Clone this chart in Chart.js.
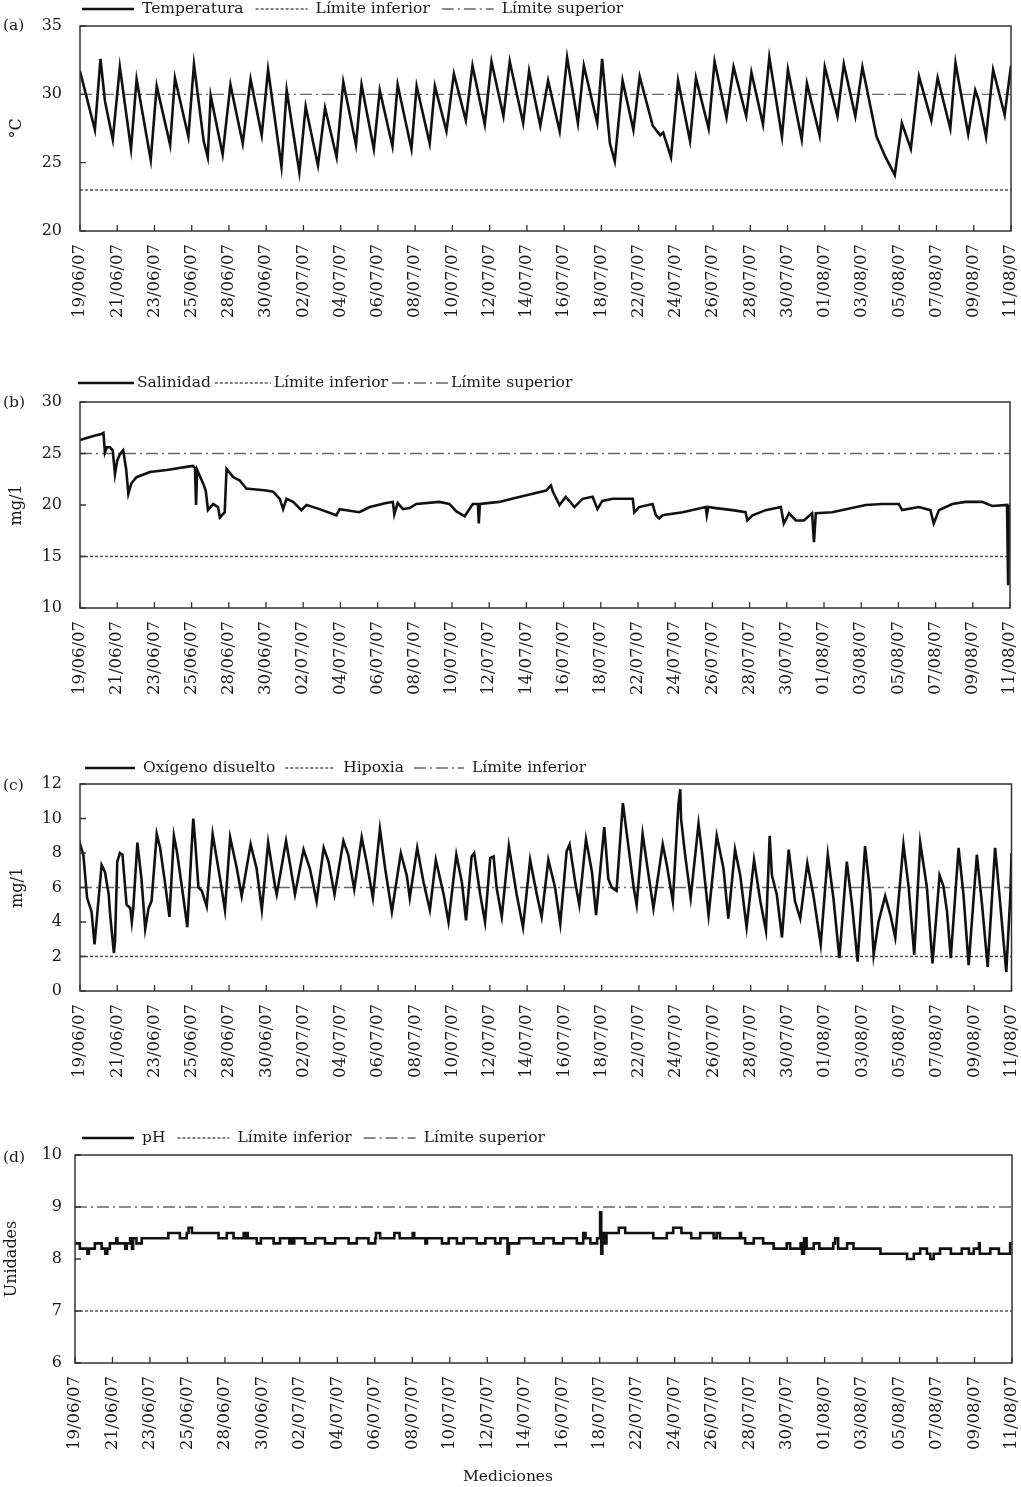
<!DOCTYPE html>
<html>
<head>
<meta charset="utf-8">
<script src="https://cdn.jsdelivr.net/npm/chart.js@4.4.1/dist/chart.umd.min.js"></script>
<style>
html, body { margin: 0; padding: 0; background: #fff; }
body { width: 1021px; height: 1487px; position: relative; overflow: hidden; }
canvas { position: absolute; left: 0; }
</style>
</head>
<body>
<canvas id="cA" width="1021" height="370" style="top:0px;width:1021px;height:370px"></canvas>
<canvas id="cB" width="1021" height="385" style="top:370px;width:1021px;height:385px"></canvas>
<canvas id="cC" width="1021" height="370" style="top:755px;width:1021px;height:370px"></canvas>
<canvas id="cD" width="1021" height="362" style="top:1125px;width:1021px;height:362px"></canvas>
<script>
// x values are in tick intervals (0 = 19/06/07 ... 25 = 11/08/07)
const tickLabels = ["19/06/07", "21/06/07", "23/06/07", "25/06/07", "28/06/07", "30/06/07", "02/07/07",
  "04/07/07", "06/07/07", "08/07/07", "10/07/07", "12/07/07", "14/07/07", "16/07/07", "18/07/07",
  "22/07/07", "24/07/07", "26/07/07", "28/07/07", "30/07/07", "01/08/07", "03/08/07", "05/08/07",
  "07/08/07", "09/08/07", "11/08/07"];

const temperatura = [[0,31.7],[0.40,27.4],[0.55,32.6],[0.67,29.5],[0.88,26.7],[1.07,32.0],[1.37,26.0],[1.52,31.1],
  [1.90,25.2],[2.06,30.6],[2.42,26.3],[2.55,31.2],[2.91,26.9],[3.06,32.2],[3.32,26.6],[3.43,25.4],[3.51,29.9],
  [3.83,25.6],[4.04,30.7],[4.37,26.4],[4.58,31.1],[4.88,27.0],[5.05,31.8],[5.41,24.7],[5.55,30.3],[5.89,24.3],
  [6.06,29.1],[6.39,24.8],[6.58,29.0],[6.89,25.4],[7.07,30.9],[7.41,26.3],[7.56,30.7],[7.89,26.0],[8.05,30.3],
  [8.39,26.2],[8.53,30.7],[8.90,26.0],[9.04,30.6],[9.39,26.4],[9.53,30.6],[9.84,27.3],[10.04,31.5],[10.36,28.1],
  [10.54,32.1],[10.87,27.8],[11.05,32.4],[11.37,28.4],[11.54,32.4],[11.90,27.9],[12.06,31.7],[12.36,27.7],
  [12.57,31.0],[12.88,27.3],[13.08,32.7],[13.37,27.9],[13.53,32.1],[13.89,27.9],[14.02,32.6],[14.23,26.4],
  [14.36,25.1],[14.57,31.0],[14.86,27.4],[15.03,31.3],[15.38,27.7],[15.58,27.0],[15.66,27.2],[15.87,25.4],
  [16.06,31.0],[16.38,26.6],[16.54,31.2],[16.88,27.5],[17.04,32.4],[17.36,28.3],[17.55,32.0],[17.89,28.4],
  [18.03,31.6],[18.34,27.8],[18.51,32.7],[18.85,26.9],[19.01,31.8],[19.38,26.7],[19.52,30.8],[19.86,27.0],
  [20.00,32.0],[20.34,28.4],[20.51,32.2],[20.82,28.4],[21.01,32.0],[21.39,26.9],[21.63,25.4],[21.88,24.1],
  [22.07,27.9],[22.31,26.0],[22.53,31.3],[22.86,28.1],[23.03,31.2],[23.37,27.5],[23.51,32.3],[23.85,27.1],
  [24.04,30.3],[24.13,29.6],[24.33,26.9],[24.52,31.8],[24.83,28.5],[25,32.1]];
const tempLimites = [23, 30];

const salinidad = [[0,26.3],[0.18,26.5],[0.36,26.7],[0.58,26.9],[0.63,27.0],[0.67,25.1],[0.72,25.6],[0.81,25.6],
  [0.88,25.3],[0.94,23.0],[1.00,24.3],[1.07,24.9],[1.16,25.3],[1.24,23.5],[1.30,21.1],[1.38,22.1],[1.52,22.7],
  [1.88,23.2],[2.33,23.4],[2.86,23.7],[3.04,23.8],[3.09,23.6],[3.12,20.0],[3.15,23.4],[3.31,22.1],[3.38,21.4],
  [3.44,19.5],[3.58,20.1],[3.71,19.8],[3.76,18.8],[3.89,19.3],[3.94,23.5],[4.12,22.7],[4.29,22.4],[4.47,21.6],
  [5.01,21.4],[5.19,21.3],[5.37,20.6],[5.46,19.6],[5.55,20.6],[5.73,20.3],[5.95,19.5],[6.09,20.0],[6.44,19.6],
  [6.89,19.0],[6.98,19.6],[7.51,19.3],[7.79,19.8],[8.23,20.2],[8.41,20.3],[8.45,19.1],[8.54,20.2],[8.68,19.6],
  [8.86,19.7],[9.04,20.1],[9.66,20.3],[9.93,20.1],[10.11,19.4],[10.34,18.9],[10.56,20.1],[10.70,20.1],
  [10.72,18.2],[10.75,20.1],[11.27,20.3],[11.72,20.7],[12.17,21.1],[12.53,21.4],[12.66,21.9],[12.71,21.3],
  [12.89,20.0],[13.06,20.8],[13.29,19.8],[13.51,20.6],[13.78,20.8],[13.91,19.6],[14.04,20.4],[14.32,20.6],
  [14.86,20.6],[14.90,19.3],[15.03,19.8],[15.39,20.1],[15.48,19.0],[15.57,18.7],[15.66,19.0],[16.20,19.3],
  [16.82,19.8],[16.85,19.0],[16.89,19.8],[17.09,19.7],[17.54,19.5],[17.89,19.3],[17.94,18.5],[18.08,19.0],
  [18.43,19.5],[18.84,19.8],[18.92,18.2],[19.06,19.2],[19.24,18.5],[19.46,18.5],[19.68,19.2],[19.73,16.4],
  [19.78,19.2],[20.22,19.3],[21.12,20.0],[21.56,20.1],[22.01,20.1],[22.10,19.5],[22.55,19.8],[22.86,19.5],
  [22.95,18.2],[23.09,19.5],[23.45,20.1],[23.80,20.3],[24.25,20.3],[24.52,19.9],[24.92,20.0],[24.95,12.2],
  [24.98,19.9],[25,20.0]];
const salLimites = [15, 25];

const oxigeno = [[0,8.2],[0.02,8.4],[0.09,7.9],[0.19,5.4],[0.31,4.6],[0.39,2.7],[0.46,4.4],[0.58,7.3],[0.67,6.9],
  [0.77,5.6],[0.81,4.4],[0.91,2.2],[0.94,2.9],[1.00,7.5],[1.07,8.0],[1.14,7.9],[1.25,5.0],[1.35,4.8],[1.39,4.0],
  [1.43,4.8],[1.54,8.6],[1.65,6.5],[1.75,3.6],[1.84,4.8],[1.92,5.2],[2.06,9.1],[2.15,8.3],[2.28,6.3],[2.40,4.3],
  [2.52,9.0],[2.60,8.1],[2.75,5.8],[2.88,3.7],[3.00,8.5],[3.04,10.0],[3.09,8.7],[3.18,6.0],[3.27,5.8],[3.40,4.9],
  [3.56,9.1],[3.76,6.5],[3.89,4.7],[4.03,8.9],[4.21,7.1],[4.34,5.5],[4.58,8.5],[4.74,7.1],[4.88,4.7],[5.05,8.6],
  [5.24,6.0],[5.28,5.6],[5.53,8.7],[5.64,7.3],[5.77,5.6],[6.00,8.2],[6.17,7.1],[6.35,5.2],[6.54,8.3],[6.67,7.5],
  [6.83,5.6],[7.07,8.7],[7.20,7.9],[7.36,5.9],[7.56,8.9],[7.69,7.5],[7.86,5.4],[8.05,9.4],[8.19,7.1],[8.37,4.6],
  [8.61,8.0],[8.77,6.7],[8.85,5.4],[9.05,8.3],[9.22,6.3],[9.39,4.7],[9.55,7.6],[9.76,5.6],[9.89,4.0],[10.10,7.9],
  [10.25,6.3],[10.36,4.1],[10.51,7.8],[10.58,8.0],[10.74,5.6],[10.87,4.0],[11.01,7.7],[11.10,7.8],[11.18,6.0],
  [11.32,4.3],[11.51,8.4],[11.72,5.6],[11.89,3.7],[12.08,7.6],[12.26,5.6],[12.39,4.3],[12.57,7.6],[12.75,6.0],
  [12.89,3.9],[13.06,8.1],[13.14,8.5],[13.29,6.3],[13.40,5.0],[13.58,8.8],[13.74,6.9],[13.85,4.4],[14.07,9.5],
  [14.18,6.5],[14.27,6.0],[14.40,5.8],[14.57,10.9],[14.67,9.2],[14.86,6.0],[14.94,5.0],[15.10,9.1],[15.26,6.7],
  [15.39,4.8],[15.64,8.5],[15.75,7.3],[15.91,5.2],[16.06,10.8],[16.11,11.7],[16.13,10.0],[16.24,7.9],[16.39,5.4],
  [16.60,9.7],[16.69,8.1],[16.87,4.4],[17.09,9.0],[17.27,7.1],[17.40,4.2],[17.58,8.2],[17.72,6.7],[17.89,3.7],
  [18.09,7.6],[18.26,5.2],[18.41,3.5],[18.51,9.0],[18.57,6.7],[18.70,5.6],[18.84,3.1],[19.02,8.2],[19.19,5.2],
  [19.33,4.2],[19.52,7.4],[19.68,5.6],[19.88,2.7],[20.07,7.9],[20.22,5.4],[20.38,1.9],[20.58,7.5],[20.72,5.0],
  [20.87,1.7],[21.07,8.4],[21.21,5.6],[21.30,2.1],[21.43,4.0],[21.61,5.5],[21.75,4.4],[21.88,3.1],[22.10,8.5],
  [22.24,6.0],[22.39,2.1],[22.55,8.6],[22.73,6.0],[22.88,1.6],[23.07,6.7],[23.17,6.1],[23.27,4.6],[23.37,1.9],
  [23.58,8.3],[23.71,5.6],[23.85,1.5],[24.07,7.9],[24.21,5.0],[24.36,1.4],[24.56,8.3],[24.70,5.0],[24.86,1.1],
  [24.97,5.6],[25,8.0]];
const oxLimites = [2, 6];

// pH is stepped: each value holds from its x until the next point
const ph = [[0,8.3],[0.13,8.2],[0.33,8.1],[0.37,8.2],[0.53,8.3],[0.71,8.2],[0.81,8.1],[0.86,8.2],[0.93,8.3],
  [1.10,8.4],[1.13,8.3],[1.34,8.2],[1.38,8.3],[1.47,8.4],[1.52,8.2],[1.55,8.4],[1.64,8.3],[1.78,8.4],[2.49,8.5],
  [2.80,8.4],[2.98,8.5],[3.03,8.6],[3.12,8.5],[3.83,8.4],[4.05,8.5],[4.23,8.4],[4.50,8.5],[4.53,8.4],[4.58,8.5],
  [4.61,8.4],[4.85,8.3],[4.96,8.4],[5.30,8.3],[5.47,8.4],[5.72,8.3],[5.76,8.4],[5.81,8.3],[5.85,8.4],[6.14,8.3],
  [6.41,8.4],[6.67,8.3],[6.94,8.4],[7.30,8.3],[7.52,8.4],[7.83,8.3],[8.01,8.4],[8.03,8.5],[8.14,8.4],[8.52,8.5],
  [8.66,8.4],[9.01,8.5],[9.05,8.4],[9.35,8.3],[9.39,8.4],[9.79,8.3],[9.97,8.4],[10.19,8.3],[10.37,8.4],[10.72,8.3],
  [10.95,8.4],[11.21,8.3],[11.35,8.4],[11.54,8.1],[11.58,8.3],[11.85,8.4],[12.24,8.3],[12.50,8.4],[12.77,8.3],
  [13.03,8.4],[13.39,8.3],[13.56,8.5],[13.62,8.4],[13.75,8.3],[13.93,8.4],[14.01,8.9],[14.04,8.1],[14.07,8.5],
  [14.11,8.3],[14.18,8.5],[14.51,8.6],[14.68,8.5],[15.43,8.4],[15.79,8.5],[15.96,8.6],[16.18,8.5],[16.44,8.4],
  [16.68,8.5],[17.04,8.4],[17.12,8.5],[17.21,8.4],[17.74,8.5],[17.77,8.4],[17.88,8.3],[18.11,8.4],[18.36,8.3],
  [18.64,8.2],[18.99,8.3],[19.08,8.2],[19.36,8.3],[19.40,8.1],[19.45,8.4],[19.52,8.2],[19.71,8.3],[19.86,8.2],
  [20.23,8.3],[20.28,8.4],[20.36,8.2],[20.60,8.3],[20.77,8.2],[21.49,8.1],[22.20,8.0],[22.38,8.1],[22.55,8.2],
  [22.73,8.1],[22.82,8.0],[22.91,8.1],[23.08,8.2],[23.37,8.1],[23.66,8.2],[23.85,8.1],[23.98,8.2],[24.12,8.3],
  [24.14,8.1],[24.42,8.2],[24.65,8.1],[24.95,8.3],[25,8.3]];
const phLimites = [7, 9];

const FONT = '"DejaVu Serif", serif';
const INK = "#1a1a1a";

const decor = {
  id: "decor",
  afterDraw(chart, args, o) {
    const ctx = chart.ctx, a = chart.chartArea;
    const xs = chart.scales.x, ys = chart.scales.y;
    ctx.save();
    ctx.strokeStyle = "#333";
    ctx.lineWidth = 1.5;
    ctx.strokeRect(a.left, a.top, a.right - a.left, a.bottom - a.top);
    ctx.lineWidth = 1.3;
    ctx.beginPath();
    xs.ticks.forEach((t, i) => {
      const px = xs.getPixelForTick(i);
      ctx.moveTo(px, a.bottom); ctx.lineTo(px, a.bottom - 6);
    });
    ys.ticks.forEach((t, i) => {
      const py = ys.getPixelForTick(i);
      ctx.moveTo(a.left, py); ctx.lineTo(a.left + 6, py);
    });
    ctx.stroke();

    ctx.fillStyle = INK;
    ctx.font = "15.5px " + FONT;
    ctx.textBaseline = "middle";
    ctx.textAlign = "left";
    ctx.fillText(o.tag, 3, o.tagY);

    // legend
    let x = o.legendX;
    chart.data.datasets.forEach(ds => {
      ctx.save();
      ctx.strokeStyle = ds.borderColor;
      ctx.lineWidth = ds.borderWidth;
      ctx.setLineDash(ds.borderDash || []);
      ctx.beginPath();
      ctx.moveTo(x, o.legendY); ctx.lineTo(x + o.sample, o.legendY);
      ctx.stroke();
      ctx.restore();
      x += o.sample + o.gapS;
      ctx.fillText(ds.label, x, o.legendY);
      x += ctx.measureText(ds.label).width + o.gapT;
    });

    if (o.xTitle) {
      ctx.textAlign = "center";
      ctx.fillText(o.xTitle, o.xTitleX, o.xTitleY);
    }
    ctx.restore();
  }
};

function panel(id, cfg) {
  new Chart(document.getElementById(id), {
    type: "line",
    data: {
      datasets: [
        { label: cfg.names[0], data: cfg.series, borderColor: "#111", borderWidth: 2.6,
          stepped: cfg.stepped || false, pointRadius: 0 },
        { label: cfg.names[1], data: [[0, cfg.limits[0]], [25, cfg.limits[0]]], borderColor: "#555",
          borderWidth: 1.5, borderDash: [3, 2], pointRadius: 0 },
        { label: cfg.names[2], data: [[0, cfg.limits[1]], [25, cfg.limits[1]]], borderColor: "#666",
          borderWidth: 1.3, borderDash: [12, 4, 2, 4], pointRadius: 0 }
      ]
    },
    options: {
      responsive: false,
      animation: false,
      events: [],
      layout: { padding: { top: cfg.top, right: cfg.right, left: 0, bottom: 0 } },
      scales: {
        x: {
          type: "linear", min: 0, max: 25,
          grid: { display: false, drawTicks: false },
          border: { display: false },
          ticks: {
            stepSize: 1, autoSkip: false, maxTicksLimit: 100, minRotation: 90, maxRotation: 90,
            padding: 13, color: INK, font: { family: FONT, size: 16.5 },
            callback: v => tickLabels[v]
          },
          afterFit: s => { s.height = cfg.xh; s.paddingLeft = 0; s.paddingRight = 0; }
        },
        y: {
          min: cfg.yMin, max: cfg.yMax,
          grid: { display: false, drawTicks: false },
          border: { display: false },
          ticks: { stepSize: cfg.yStep, padding: cfg.yPad, color: INK, font: { family: FONT, size: 16 } },
          title: { display: true, text: cfg.yTitle, color: INK, font: { family: FONT, size: 16 },
            padding: { top: cfg.titlePad, bottom: 0 } },
          afterFit: s => { s.width = cfg.yw; s.paddingTop = 0; s.paddingBottom = 0; }
        }
      },
      plugins: {
        legend: { display: false },
        tooltip: { enabled: false },
        decor: cfg.decor
      }
    },
    plugins: [decor]
  });
}

panel("cA", {
  names: ["Temperatura", "Límite inferior", "Límite superior"],
  series: temperatura, limits: tempLimites,
  yMin: 20, yMax: 35, yStep: 5, yTitle: "°C", titlePad: 7, yPad: 18, yw: 80,
  top: 26, right: 10, xh: 139,
  decor: { tag: "(a)", tagY: 26, legendX: 82, legendY: 9, sample: 52, gapS: 8, gapT: 12 }
});
panel("cB", {
  names: ["Salinidad", "Límite inferior", "Límite superior"],
  series: salinidad, limits: salLimites,
  yMin: 10, yMax: 30, yStep: 5, yTitle: "mg/1", titlePad: 7, yPad: 18, yw: 80,
  top: 32, right: 11, xh: 147,
  decor: { tag: "(b)", tagY: 33, legendX: 78, legendY: 13, sample: 56, gapS: 3, gapT: 4 }
});
panel("cC", {
  names: ["Oxígeno disuelto", "Hipoxia", "Límite inferior"],
  series: oxigeno, limits: oxLimites,
  yMin: 0, yMax: 12, yStep: 2, yTitle: "mg/1", titlePad: 8, yPad: 18, yw: 80,
  top: 29, right: 9.5, xh: 134,
  decor: { tag: "(c)", tagY: 31, legendX: 85, legendY: 13, sample: 50, gapS: 8, gapT: 10 }
});
panel("cD", {
  names: ["pH", "Límite inferior", "Límite superior"],
  series: ph, limits: phLimites, stepped: true,
  yMin: 6, yMax: 10, yStep: 1, yTitle: "Unidades", titlePad: 2, yPad: 13, yw: 75,
  top: 30, right: 9, xh: 124,
  decor: { tag: "(d)", tagY: 33, legendX: 82, legendY: 13, sample: 52, gapS: 8, gapT: 12,
    xTitle: "Mediciones", xTitleX: 508, xTitleY: 352 }
});
</script>
</body>
</html>
